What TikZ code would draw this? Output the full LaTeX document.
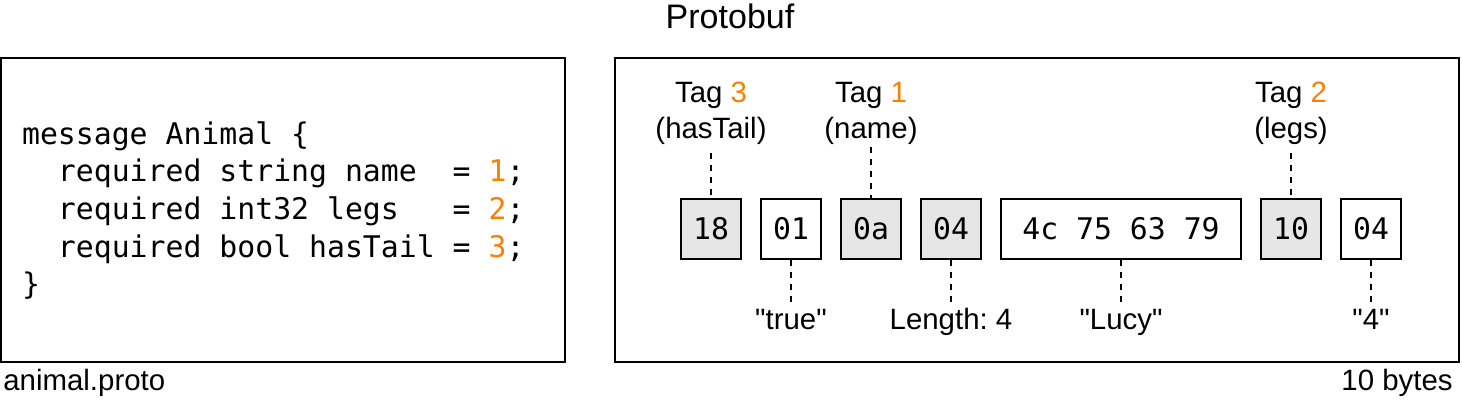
\documentclass[tikz,border=0pt]{standalone}
\usepackage{fontspec}
\setmainfont{Liberation Sans}[Ligatures=TeXOff]
\newfontfamily\codefont{DejaVu Sans Mono}
\definecolor{tagorange}{RGB}{255,128,0}
\definecolor{bytegray}{RGB}{230,230,230}
\frenchspacing
\begin{document}
\begin{tikzpicture}[x=0.5pt,y=-0.5pt,
  frame/.style={draw=black,line width=1pt},
  bytebox/.style={draw=black,line width=1pt,minimum width=30pt,minimum height=30pt,inner sep=0pt,font=\codefont\fontsize{14.9}{18}\selectfont},
  tagbyte/.style={bytebox,fill=bytegray},
  valbyte/.style={bytebox,fill=white},
  lbl/.style={inner sep=0pt,font=\fontsize{14.7}{17.5}\selectfont},
  codeline/.style={inner sep=0pt,anchor=base west,font=\codefont\fontsize{14.9}{18}\selectfont},
  dashline/.style={line width=1pt,dash pattern=on 3pt off 3pt}]
\useasboundingbox (0,0) rectangle (1462,404);
% frames
\node[frame,minimum width=282pt,minimum height=152pt,inner sep=0pt] (leftframe) at (283,210) {};
\node[frame,minimum width=422pt,minimum height=152pt,inner sep=0pt] (rightframe) at (1037,210) {};
% title and captions
\node[inner sep=0pt,anchor=base,font=\fontsize{17}{19}\selectfont] (title) at (730,28.3) {Protobuf};
\node[lbl,anchor=base west] (fname) at (3,390) {animal.proto};
\node[lbl,anchor=base east] (fsize) at (1453,390) {10 bytes};
% code
\node[codeline] (c1) at (21.7,144) {message~Animal~\{};
\node[codeline] (c2) at (21.7,181.7) {~~required~string~name~~=~\textcolor{tagorange}{1};};
\node[codeline] (c3) at (21.7,219.3) {~~required~int32~legs~~~=~\textcolor{tagorange}{2};};
\node[codeline] (c4) at (21.7,257) {~~required~bool~hasTail~=~\textcolor{tagorange}{3};};
\node[codeline] (c5) at (21.7,294.7) {\}};
% bytes
\node[tagbyte] (b18) at (711,229) {18};
\node[valbyte] (b01) at (791,229) {01};
\node[tagbyte] (b0a) at (871,229) {0a};
\node[tagbyte] (b04a) at (951,229) {04};
\node[valbyte,minimum width=120pt] (blucy) at (1121,229) {4c~75~63~79};
\node[tagbyte] (b10) at (1291,229) {10};
\node[valbyte] (b04b) at (1371,229) {04};
% top labels
\node[lbl,anchor=base] (t3a) at (711,102.7) {Tag \textcolor{tagorange}{3}};
\node[lbl,anchor=base] (t3b) at (711,138.3) {(hasTail)};
\node[lbl,anchor=base] (t1a) at (871,102.7) {Tag \textcolor{tagorange}{1}};
\node[lbl,anchor=base] (t1b) at (871,138.3) {(name)};
\node[lbl,anchor=base] (t2a) at (1291,102.7) {Tag \textcolor{tagorange}{2}};
\node[lbl,anchor=base] (t2b) at (1291,138.3) {(legs)};
% bottom labels
\node[lbl,anchor=base] (vtrue) at (791,329.3) {"true"};
\node[lbl,anchor=base] (vlen) at (951,329.3) {Length: 4};
\node[lbl,anchor=base] (vlucy) at (1121,329.3) {"Lucy"};
\node[lbl,anchor=base] (vfour) at (1371,329.3) {"4"};
% connectors
\draw[dashline,shorten <=7.5pt] (t3b.base) -- (b18.north);
\draw[dashline,shorten <=4.5pt] (t1b.base) -- (b0a.north);
\draw[dashline,shorten <=7.5pt] (t2b.base) -- (b10.north);
\draw[dashline,shorten >=13.5pt] (b01.south) -- (vtrue.base);
\draw[dashline,shorten >=13.5pt] (b04a.south) -- (vlen.base);
\draw[dashline,shorten >=13.5pt] (blucy.south) -- (vlucy.base);
\draw[dashline,shorten >=13.5pt] (b04b.south) -- (vfour.base);
\end{tikzpicture}
\end{document}
